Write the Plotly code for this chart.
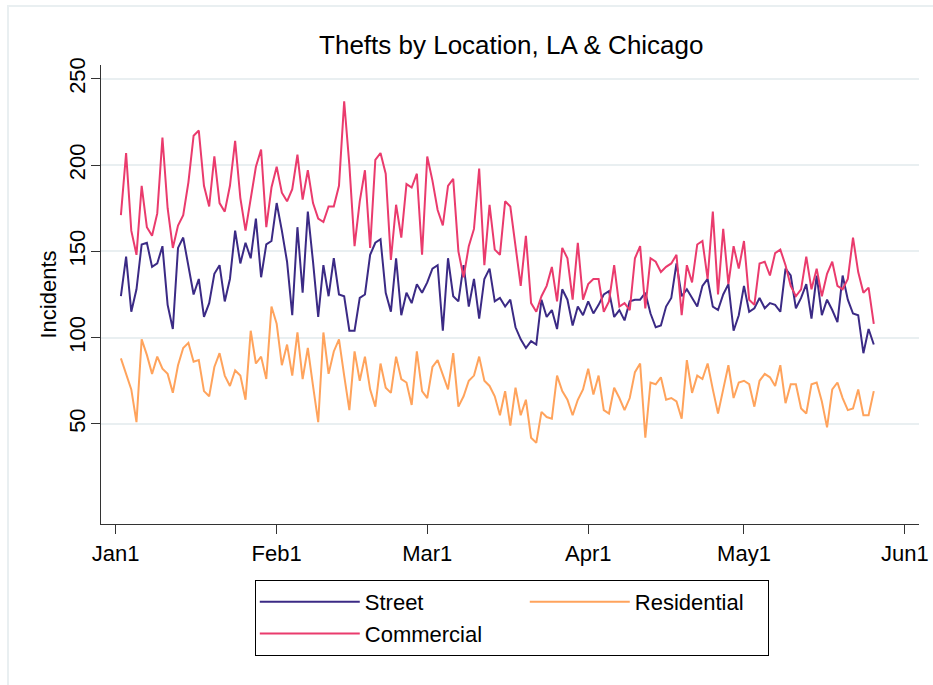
import pandas as pd
import plotly.graph_objects as go

# daily counts, 2 Jan 2020 .. 26 May 2020
dates = pd.date_range("2020-01-02", "2020-05-26", freq="D")

street = [
    124, 147, 115, 128, 154, 155, 141, 143, 153, 119, 105, 152, 158, 141, 125, 134, 112, 120, 137, 142,
    121, 134, 162, 143, 155, 146, 169, 135, 154, 156, 178, 162, 144, 113, 164, 126, 173, 144, 112, 142,
    124, 146, 125, 124, 104, 104, 123, 125, 148, 155, 157, 126, 115, 146, 113, 126, 120, 131, 126, 132,
    140, 142, 104, 146, 124, 121, 142, 118, 134, 111, 134, 140, 121, 123, 118, 122, 106, 99, 94, 98,
    96, 122, 112, 116, 105, 128, 122, 107, 118, 113, 121, 114, 119, 125, 127, 112, 116, 110, 121, 122,
    122, 126, 114, 106, 107, 118, 123, 143, 124, 128, 123, 118, 130, 134, 118, 116, 125, 131, 104, 113,
    130, 115, 117, 123, 117, 120, 119, 115, 140, 136, 117, 123, 131, 111, 136, 113, 122, 116, 109, 136,
    122, 114, 113, 91, 105, 96,
]

commercial = [
    171, 207, 162, 148, 188, 164, 159, 172, 216, 175, 152, 165, 171, 190, 217, 220, 188, 176, 205, 178,
    173, 188, 214, 181, 162, 181, 199, 209, 164, 187, 199, 184, 179, 186, 206, 180, 197, 178, 169, 167,
    176, 176, 188, 237, 200, 153, 179, 197, 152, 203, 207, 195, 145, 177, 158, 189, 187, 195, 148, 205,
    191, 174, 165, 188, 192, 150, 135, 153, 163, 198, 142, 177, 151, 148, 179, 176, 152, 130, 159, 120,
    115, 124, 130, 141, 121, 152, 146, 122, 155, 122, 131, 134, 134, 115, 121, 142, 118, 120, 116, 146,
    153, 117, 146, 144, 138, 141, 143, 148, 113, 142, 132, 154, 156, 134, 173, 125, 163, 131, 153, 140,
    156, 122, 119, 143, 144, 136, 149, 151, 142, 130, 124, 128, 147, 128, 140, 124, 137, 144, 130, 128,
    134, 158, 138, 126, 129, 108,
]

residential = [
    88, 79, 70, 51, 99, 90, 79, 89, 82, 79, 68, 84, 94, 97, 86, 87, 69, 66, 83, 91,
    78, 72, 81, 78, 64, 104, 85, 89, 76, 118, 108, 84, 96, 78, 103, 76, 94, 72, 51, 103,
    79, 92, 99, 78, 58, 92, 75, 89, 70, 60, 85, 71, 68, 89, 76, 74, 61, 92, 69, 65,
    83, 87, 79, 70, 91, 60, 66, 75, 78, 89, 75, 72, 66, 55, 69, 49, 71, 55, 64, 42,
    39, 57, 54, 53, 78, 69, 64, 55, 64, 70, 82, 67, 78, 58, 56, 71, 65, 58, 65, 80,
    85, 42, 74, 73, 77, 64, 65, 63, 53, 87, 68, 78, 76, 85, 70, 56, 70, 84, 65, 74,
    75, 73, 60, 75, 79, 77, 72, 84, 62, 73, 73, 59, 56, 73, 74, 63, 48, 70, 74, 65,
    58, 59, 70, 55, 55, 69,
]

tick_dates = ["2020-01-01", "2020-02-01", "2020-03-01", "2020-04-01", "2020-05-01", "2020-06-01"]
tick_labels = ["Jan1", "Feb1", "Mar1", "Apr1", "May1", "Jun1"]
y_ticks = [50, 100, 150, 200, 250]

STREET_COLOR = "#3b2a85"
COMMERCIAL_COLOR = "#ea3b6d"
RESIDENTIAL_COLOR = "#ffa35c"
GRID_COLOR = "#e9eff1"
AXIS_COLOR = "#333333"
FONT = "Liberation Sans, Arial, sans-serif"

fig = go.Figure()
# legend groups give the two-column layout: (Street, Commercial) | (Residential)
for name, vals, color, group, entry_w in [
    ("Street", street, STREET_COLOR, "left", 155),
    ("Commercial", commercial, COMMERCIAL_COLOR, "left", 155),
    ("Residential", residential, RESIDENTIAL_COLOR, "right", 128),
]:
    fig.add_trace(
        go.Scatter(
            x=dates,
            y=vals,
            mode="lines",
            name=name,
            legendgroup=group,
            legendwidth=entry_w,
            line={"color": color, "width": 2},
        )
    )

axis_style = {
    "ticks": "outside",
    "ticklen": 9,
    "tickwidth": 1.3,
    "tickcolor": AXIS_COLOR,
    "showline": True,
    "linecolor": AXIS_COLOR,
    "linewidth": 1.3,
    "zeroline": False,
    "automargin": False,
    "tickfont": {"size": 22, "color": "black"},
}

fig.update_layout(
    width=933,
    height=685,
    paper_bgcolor="white",
    plot_bgcolor="white",
    font={"family": FONT, "size": 22, "color": "black"},
    title={
        "text": "Thefts by Location, LA & Chicago",
        "x": 0.548,
        "xanchor": "center",
        "y": 0.934,
        "yanchor": "middle",
        "font": {"size": 26, "color": "black"},
    },
    margin={"l": 101, "r": 14, "t": 65, "b": 161, "autoexpand": False},
    xaxis={
        **axis_style,
        "range": ["2019-12-29 04:00", "2020-06-03 17:00"],
        "tickvals": tick_dates,
        "ticktext": tick_labels,
        "showgrid": False,
    },
    yaxis={
        **axis_style,
        "range": [-8, 258],
        "tickvals": y_ticks,
        "tickangle": -90,
        "ticklabelstandoff": -3,
        "showgrid": True,
        "gridcolor": GRID_COLOR,
        "gridwidth": 2,
        "title": {"text": "Incidents", "standoff": 2, "font": {"size": 22, "color": "black"}},
    },
    legend={
        "orientation": "h",
        "traceorder": "grouped",
        "tracegroupgap": 0,
        "x": 0.188,
        "xanchor": "left",
        "y": -0.122,
        "yanchor": "top",
        "bordercolor": "black",
        "borderwidth": 1,
        "bgcolor": "white",
        "itemwidth": 100,
        "font": {"size": 22, "color": "black"},
    },
    shapes=[
        {
            "type": "rect",
            "xref": "paper",
            "yref": "paper",
            "x0": -0.1137,
            "x1": 1.2,
            "y0": -0.5,
            "y1": 1.1285,
            "line": {"color": GRID_COLOR, "width": 2},
            "layer": "below",
        }
    ],
)

# the page body has a default 8px margin; drop it so the figure sits at (0, 0)
fig.write_html(
    "out.html",
    config={"displayModeBar": False},
    post_script="document.body.style.margin = '0';",
)
